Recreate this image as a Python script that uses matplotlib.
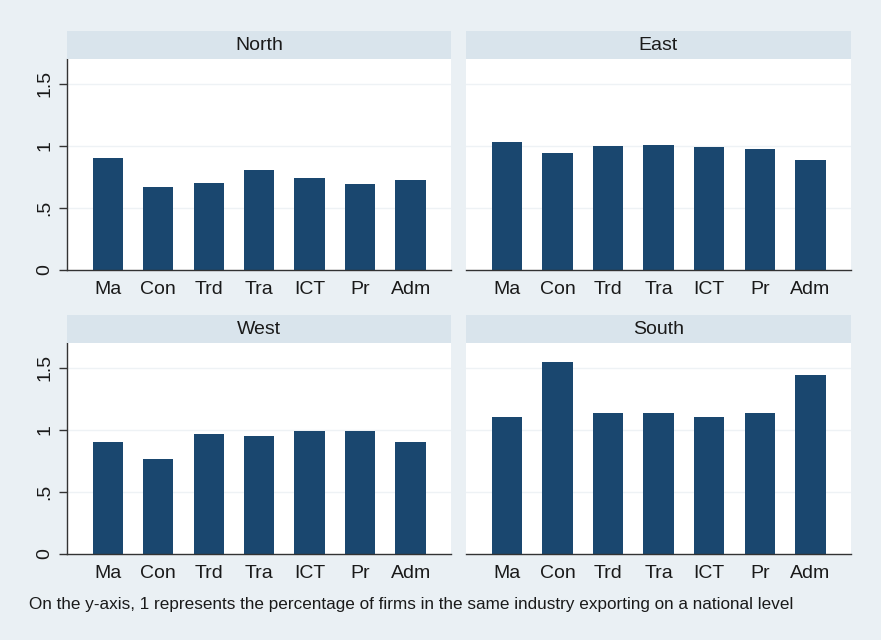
import matplotlib
matplotlib.use("Agg")
import matplotlib.pyplot as plt
import numpy as np

plt.rcParams['font.family'] = ['Liberation Sans', 'DejaVu Sans']

industries = ["Ma", "Con", "Trd", "Tra", "ICT", "Pr", "Adm"]
north = [0.90, 0.665, 0.70, 0.805, 0.74, 0.69, 0.725]
east = [1.03, 0.945, 1.00, 1.005, 0.995, 0.975, 0.885]
west = [0.905, 0.765, 0.97, 0.95, 0.99, 0.995, 0.90]
south = [1.105, 1.55, 1.14, 1.14, 1.105, 1.135, 1.44]
regions = ["North", "East", "West", "South"]
series = [north, east, west, south]
yticks = [0, 0.5, 1, 1.5]
ytick_labels = ["0", ".5", "1", "1.5"]
footnote = "On the y-axis, 1 represents the percentage of firms in the same industry exporting on a national level"

W, H = 881, 640
bg = "#eaf0f4"
strip_c = "#d9e4ec"
bar_c = "#1a476f"

fig = plt.figure(figsize=(W / 100, H / 100), dpi=100, facecolor=bg)

def fx(px):
    return px / W

def fy(py):
    return 1 - py / H

# (left, right, strip_top, plot_top, plot_bottom)
panels = [
    (67, 451, 31, 59, 270),
    (466, 851, 31, 59, 270),
    (67, 451, 315, 343, 554),
    (466, 851, 315, 343, 554),
]

x = np.arange(len(industries))
for i, (name, vals, (l, r, st, pt, pb)) in enumerate(zip(regions, series, panels)):
    ax = fig.add_axes([fx(l), fy(pb), fx(r - l), (pb - pt) / H])
    ax.set_facecolor("white")
    for yv in yticks[1:]:
        ax.axhline(yv, color="#eef2f5", lw=1.0, zorder=0)
    ax.bar(x, vals, width=0.6, color=bar_c, zorder=2)
    ax.set_xlim(-0.806, 6.8)
    ax.set_ylim(0, 1.70)
    ax.set_xticks(x)
    ax.set_xticklabels(industries, fontsize=14, color="#1a1a1a")
    ax.tick_params(axis="x", length=0, pad=8)
    for s in ["top", "right"]:
        ax.spines[s].set_visible(False)
    ax.spines["bottom"].set_color("#333333")
    ax.spines["bottom"].set_linewidth(1.0)
    if i % 2 == 0:
        ax.spines["left"].set_color("#333333")
        ax.spines["left"].set_linewidth(1.0)
        ax.set_yticks(yticks)
        ax.set_yticklabels(ytick_labels, fontsize=14, rotation=90, va="center", color="#1a1a1a")
        ax.tick_params(axis="y", length=6, width=1.0, color="#333333", pad=4)
    else:
        ax.spines["left"].set_visible(False)
        ax.set_yticks([])
    sax = fig.add_axes([fx(l), fy(pt), fx(r - l), (pt - st) / H])
    sax.set_facecolor(strip_c)
    sax.set_xticks([])
    sax.set_yticks([])
    for s in sax.spines.values():
        s.set_visible(False)
    sax.text(0.5, 0.48, name, ha="center", va="center", fontsize=14, color="#1a1a1a",
             transform=sax.transAxes)

fig.text(fx(29), fy(604), footnote, ha="left", va="center", fontsize=12.3, color="#1a1a1a")

fig.savefig("out.png", dpi=100, facecolor=bg)
